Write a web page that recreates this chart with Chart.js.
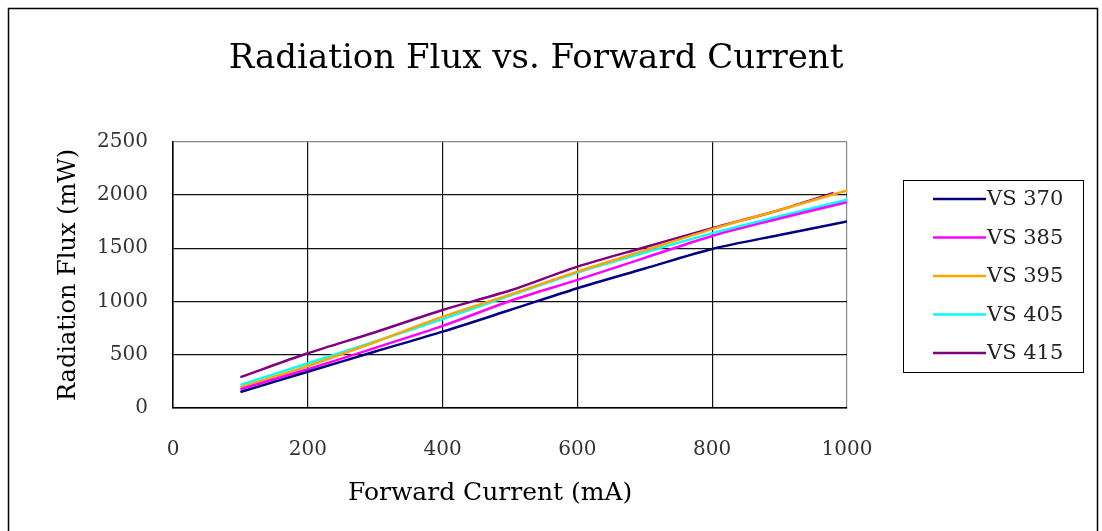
<!DOCTYPE html>
<html>
<head>
<meta charset="utf-8">
<script src="https://cdn.jsdelivr.net/npm/chart.js@4/dist/chart.umd.min.js"></script>
<style>
  html, body { margin: 0; padding: 0; background: #fff; }
</style>
</head>
<body>
<canvas id="flux" width="1102" height="531"></canvas>
<script>
/* Radiation flux vs forward current, five LED wavelengths. */

const SERIF = "'DejaVu Serif', 'Liberation Serif', serif";

const currentMA = [100, 200, 300, 400, 500, 600, 700, 800, 900, 1000];
const currentVS415 = [100, 200, 300, 400, 500, 600, 700, 800, 900, 980];

const vs370 = [150, 340, 530, 717, 920, 1125, 1310, 1494, 1625, 1751];
const vs385 = [176, 364, 565, 771, 1005, 1203, 1410, 1616, 1780, 1933];
const vs395 = [194, 395, 620, 858, 1065, 1281, 1480, 1680, 1860, 2042];
const vs405 = [216, 420, 625, 835, 1056, 1272, 1460, 1642, 1800, 1955];
const vs415 = [290, 514, 712, 921, 1103, 1328, 1510, 1689, 1860, 2020];

const seriesNames = ["VS 370", "VS 385", "VS 395", "VS 405", "VS 415"];
const seriesColors = ["#000080", "#ff00ff", "#ffa500", "#00ffff", "#800080"];

const xTicks = [0, 200, 400, 600, 800, 1000];
const yTicks = [0, 500, 1000, 1500, 2000, 2500];

function points(xs, ys) {
  return xs.map((x, i) => ({ x, y: ys[i] }));
}

const datasets = [
  points(currentMA, vs370),
  points(currentMA, vs385),
  points(currentMA, vs395),
  points(currentMA, vs405),
  points(currentVS415, vs415),
].map((data, i) => ({
  label: seriesNames[i],
  data,
  borderColor: seriesColors[i],
  backgroundColor: seriesColors[i],
  borderWidth: 2.5,
  pointRadius: 0,
  tension: 0.3,
}));

// outer frame of the figure
const framePlugin = {
  id: "frame",
  beforeDraw(chart) {
    const ctx = chart.ctx;
    ctx.save();
    ctx.fillStyle = "#fff";
    ctx.fillRect(0, 0, chart.width, chart.height);
    ctx.strokeStyle = "#000";
    ctx.lineWidth = 1.5;
    ctx.strokeRect(8.5, 8.5, 1089, 560);
    ctx.restore();
  },
};

// boxed legend to the right of the plot
const boxLegend = {
  id: "boxLegend",
  afterDraw(chart) {
    const ctx = chart.ctx;
    const left = 903.5, top = 180.5, width = 180, height = 192;
    ctx.save();
    ctx.strokeStyle = "#000";
    ctx.lineWidth = 1;
    ctx.strokeRect(left, top, width, height);
    ctx.font = `21px ${SERIF}`;
    ctx.textBaseline = "middle";
    ctx.fillStyle = "#222";
    chart.data.datasets.forEach((ds, i) => {
      const y = 199 + i * 38.5;
      ctx.strokeStyle = ds.borderColor;
      ctx.lineWidth = 2.5;
      ctx.beginPath();
      ctx.moveTo(933, y);
      ctx.lineTo(986, y);
      ctx.stroke();
      ctx.fillText(ds.label, 987, y + 1);
    });
    ctx.restore();
  },
};

const plainNumber = v => String(v);

new Chart(document.getElementById("flux"), {
  type: "line",
  data: { datasets },
  plugins: [framePlugin, boxLegend],
  options: {
    responsive: false,
    animation: false,
    layout: { padding: { left: 0, right: 30, top: 0, bottom: 0 } },
    plugins: {
      legend: { display: false },
      tooltip: { enabled: false },
      title: {
        display: true,
        text: "Radiation Flux vs. Forward Current",
        color: "#000",
        font: { family: SERIF, size: 34, weight: "normal" },
        padding: { top: 39, bottom: 62 },
      },
    },
    scales: {
      x: {
        type: "linear",
        min: 0,
        max: 1000,
        afterBuildTicks: s => { s.ticks = xTicks.map(v => ({ value: v })); },
        afterFit: s => { s.height = 123; },
        ticks: { color: "#333", padding: 30, font: { family: SERIF, size: 20 }, callback: plainNumber },
        grid: {
          drawTicks: false,
          lineWidth: 1.2,
          color: c => (c.tick && c.tick.value === 1000 ? "#888" : "#111"),
        },
        border: { color: "#000", width: 1.5 },
        title: {
          display: true,
          text: "Forward Current (mA)     ",
          color: "#000",
          font: { family: SERIF, size: 25 },
          padding: { top: 0, bottom: 23 },
        },
      },
      y: {
        min: 0,
        max: 2500,
        afterBuildTicks: s => { s.ticks = yTicks.map(v => ({ value: v })); },
        afterFit: s => { s.width = 173; },
        ticks: { color: "#333", padding: 25, font: { family: SERIF, size: 20 }, callback: plainNumber },
        grid: {
          drawTicks: false,
          lineWidth: 1.2,
          color: c => (c.tick && c.tick.value === 2500 ? "#888" : "#111"),
        },
        border: { color: "#000", width: 1.5 },
        title: {
          display: true,
          text: "Radiation Flux (mW)",
          color: "#000",
          font: { family: SERIF, size: 24 },
          padding: { top: 54, bottom: 0 },
        },
      },
      spacer: {
        type: "linear",
        position: "right",
        display: true,
        afterFit: s => { s.width = 1102 - 30 - 847; },
        grid: { display: false },
        border: { display: false },
        ticks: { display: false },
      },
    },
  },
});
</script>
</body>
</html>
